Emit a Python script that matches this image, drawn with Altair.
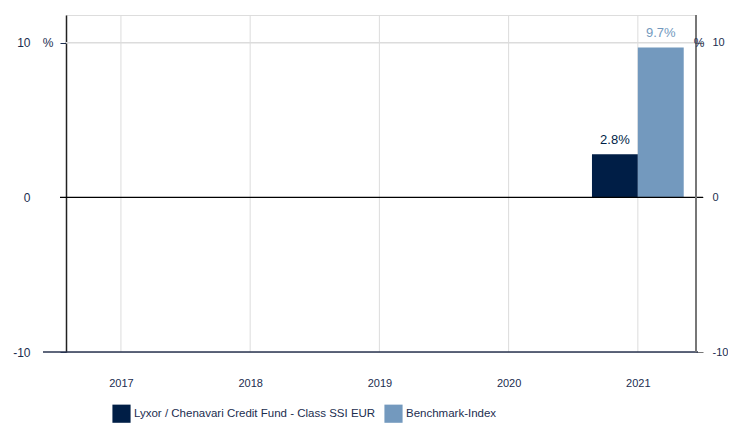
import altair as alt
import pandas as pd

years = [2017, 2018, 2019, 2020, 2021]
fund_values = [None, None, None, None, 2.8]
bench_values = [None, None, None, None, 9.7]
series_names = ["Lyxor / Chenavari Credit Fund - Class SSI EUR", "Benchmark-Index"]
colors = ["#001e46", "#7399be"]
label_colors = ["#1b2d4f", "#7399be"]
y_ticks = [-10, 0, 10]

BAR_W = 0.355
FONT = "Liberation Sans, Arial"

rows = []
for yr, f, b in zip(years, fund_values, bench_values):
    if f is not None:
        rows.append({"year": yr, "series": series_names[0], "value": f,
                     "x0": yr - BAR_W, "x1": yr, "xm": yr - BAR_W / 2,
                     "label": f"{f:.1f}%"})
    if b is not None:
        rows.append({"year": yr, "series": series_names[1], "value": b,
                     "x0": yr, "x1": yr + BAR_W, "xm": yr + BAR_W / 2,
                     "label": f"{b:.1f}%"})
bars_df = pd.DataFrame(rows)
years_df = pd.DataFrame({"year": years})
ticks_df = pd.DataFrame({"v": y_ticks})

xscale = alt.Scale(domain=[2016.575, 2021.45], nice=False, zero=False)
yscale = alt.Scale(domain=[-10, 11.8], nice=False, zero=False)

# vertical grid lines at years
vgrid = alt.Chart(years_df).mark_rule(color="#dcdcdc", strokeWidth=1).encode(
    x=alt.X("year:Q", scale=xscale,
            axis=alt.Axis(values=years, format="d", title=None, grid=False,
                          domain=False, ticks=False, labelPadding=25,
                          labelFont=FONT, labelFontSize=11, labelColor="#1b2d4f")),
    y=alt.value(0), y2=alt.value(337),
)

# horizontal grid at 10
hgrid = alt.Chart(pd.DataFrame({"v": [10]})).mark_rule(color="#dcdcdc", strokeWidth=1.5).encode(
    y=alt.Y("v:Q", scale=yscale), x=alt.value(0), x2=alt.value(630)
)

bars = alt.Chart(bars_df).mark_rect().encode(
    x=alt.X("x0:Q", scale=xscale),
    x2="x1:Q",
    y=alt.Y("value:Q", scale=yscale,
            axis=alt.Axis(values=y_ticks, title=None, grid=False, orient="left",
                          domain=True, domainColor="#222222", domainWidth=1.5,
                          tickColor="#1b2d4f", tickSize=6, labelPadding=30,
                          labelExpr="'' + datum.value",
                          labelFont=FONT, labelFontSize=12, labelColor="#1b2d4f")),
    y2=alt.datum(0),
    color=alt.Color("series:N", scale=alt.Scale(domain=series_names, range=colors),
                    legend=alt.Legend(title=None, orient="none", legendX=46, legendY=389,
                                      direction="horizontal", symbolType="square",
                                      symbolSize=330, symbolStrokeWidth=0,
                                      labelFont=FONT, labelFontSize=11.5, labelLimit=400,
                                      labelColor="#1b2d4f", labelOffset=3,
                                      columnPadding=8, symbolOpacity=1)),
)

labels = alt.Chart(bars_df).mark_text(baseline="alphabetic", dy=-10, fontSize=13, font=FONT).encode(
    x=alt.X("xm:Q", scale=xscale),
    y=alt.Y("value:Q", scale=yscale),
    text="label:N",
    color=alt.Color("series:N", scale=alt.Scale(domain=series_names, range=label_colors), legend=None),
)

zero = alt.Chart(pd.DataFrame({"v": [0]})).mark_rule(color="#000000", strokeWidth=1.2).encode(
    y=alt.Y("v:Q", scale=yscale), x=alt.value(-6), x2=alt.value(637)
)

bottom = alt.Chart(pd.DataFrame({"v": [-10]})).mark_rule(color="#2a3550", strokeWidth=1.5).encode(
    y=alt.Y("v:Q", scale=yscale), x=alt.value(-23), x2=alt.value(632)
)

right_line = alt.Chart(pd.DataFrame({"v": [0]})).mark_rule(color="#777777", strokeWidth=2).encode(
    x=alt.value(630), y=alt.value(0), y2=alt.value(337)
)

pct_df = pd.DataFrame({"v": [10], "t": ["%"]})
pct_left = alt.Chart(pct_df).mark_text(
    fontSize=12, font=FONT, color="#1b2d4f", baseline="middle", align="center"
).encode(y=alt.Y("v:Q", scale=yscale), x=alt.value(-18), text="t:N")
pct_right = alt.Chart(pct_df).mark_text(
    fontSize=12, font=FONT, color="#1b2d4f", baseline="middle", align="center"
).encode(y=alt.Y("v:Q", scale=yscale), x=alt.value(633), text="t:N")

right_axis = alt.Chart(ticks_df).mark_tick(opacity=0).encode(
    y=alt.Y("v:Q", scale=yscale,
            axis=alt.Axis(values=y_ticks, title=None, grid=False, orient="right",
                          domain=False, tickColor="#777777", tickSize=7,
                          labelExpr="'' + datum.value",
                          labelPadding=9, labelFont=FONT, labelFontSize=11,
                          labelColor="#1b2d4f")),
)

left = alt.layer(vgrid, hgrid, bars, labels, zero, bottom, right_line, pct_left, pct_right)
chart = alt.layer(left, right_axis).resolve_scale(y="independent", x="independent").properties(
    width=630, height=337,
    autosize=alt.AutoSizeParams(type="none"),
    padding={"left": 58, "top": 7, "right": 32, "bottom": 80},
).configure_view(stroke=None).configure(background="white")

chart.save("out.html", embed_options={"renderer": "svg", "actions": False})
